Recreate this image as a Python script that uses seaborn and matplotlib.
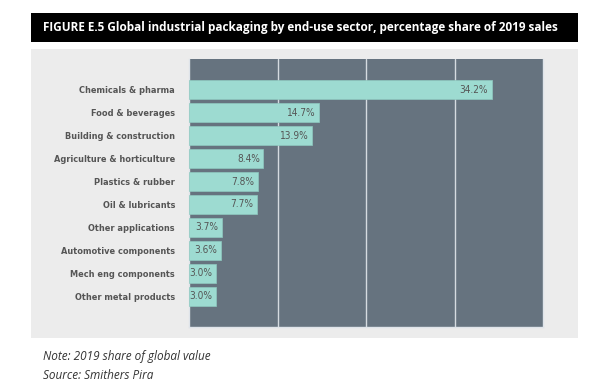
import matplotlib
matplotlib.use('Agg')
import matplotlib.pyplot as plt
import seaborn as sns
import pandas as pd
from matplotlib.patches import Rectangle

# data
sectors = ['Chemicals & pharma', 'Food & beverages', 'Building & construction',
           'Agriculture & horticulture', 'Plastics & rubber', 'Oil & lubricants',
           'Other applications', 'Automotive components', 'Mech eng components',
           'Other metal products']
shares = [34.2, 14.7, 13.9, 8.4, 7.8, 7.7, 3.7, 3.6, 3.0, 3.0]

df = pd.DataFrame({'sector': sectors, 'share': shares})

sns.set_theme(style='white')
plt.rcParams['font.family'] = ['DejaVu Sans']
plt.rcParams['font.stretch'] = 'condensed'

plot_bg = '#66737f'
bar_col = '#9ddbd1'
text_col = '#555555'

fig = plt.figure(figsize=(6, 3.9), dpi=100)

# grey panel behind the chart
fig.patches.append(Rectangle((0.0517, 0.1333), 0.9117, 0.741, transform=fig.transFigure,
                             facecolor='#ececec', edgecolor='none', zorder=-1))
# black title band
fig.patches.append(Rectangle((0.0517, 0.893), 0.9117, 0.0744, transform=fig.transFigure,
                             facecolor='black', edgecolor='none', zorder=-1))
fig.text(0.0717, 0.93, 'FIGURE E.5 Global industrial packaging by end-use sector, percentage share of 2019 sales',
         color='white', fontsize=8.45, fontweight='bold', va='center', ha='left',
         family=['Open Sans', 'DejaVu Sans'], stretch='normal')

ax = fig.add_axes([0.315, 0.1615, 0.59, 0.6872])
ax.set_zorder(2)
ax.set_facecolor(plot_bg)
sns.barplot(data=df, x='share', y='sector', color=bar_col, width=0.83,
            saturation=1, edgecolor='#8fc9c0', linewidth=0.5, ax=ax, zorder=3)

ax.set_xlim(0, 40)
ax.set_ylim(len(sectors) - 1 + 1.35, -1.35)
ax.set_xticks([10, 20, 30])
ax.set_xticklabels([])
ax.grid(axis='x', color='#d5dbe0', linewidth=1, zorder=1)
ax.grid(axis='y', visible=False)
ax.set_axisbelow(True)
ax.set_xlabel('')
ax.set_ylabel('')
ax.tick_params(axis='both', length=0)
ax.tick_params(axis='y', pad=10)
for lab in ax.get_yticklabels():
    lab.set_fontweight('bold')
    lab.set_fontsize(6.6)
    lab.set_fontstretch('condensed')
    lab.set_color(text_col)
for side in ['top', 'right', 'bottom', 'left']:
    ax.spines[side].set_visible(True)
    ax.spines[side].set_color('#dfe4ea')
    ax.spines[side].set_linewidth(1)
ax.spines['top'].set_visible(False)

for p, v in zip(ax.patches, shares):
    ax.annotate(f'{v:.1f}%', (p.get_x() + p.get_width(), p.get_y() + p.get_height() / 2),
                xytext=(-2.5, 0), textcoords='offset points', ha='right', va='center',
                fontsize=7.2, stretch='condensed', color=text_col, zorder=4)

fig.text(0.0717, 0.085, 'Note: 2019 share of global value', fontsize=8.5, style='italic',
         color='#333333', va='center', family=['Open Sans', 'DejaVu Sans'], stretch='normal')
fig.text(0.0717, 0.036, 'Source: Smithers Pira', fontsize=8.5, style='italic',
         color='#333333', va='center', family=['Open Sans', 'DejaVu Sans'], stretch='normal')

fig.savefig('out.png', dpi=100)
